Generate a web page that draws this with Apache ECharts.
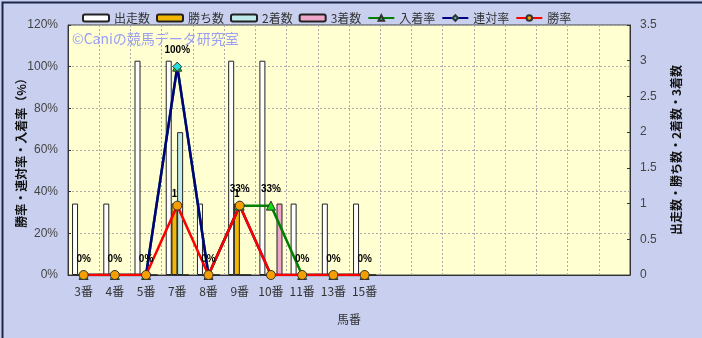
<!DOCTYPE html>
<html><head><meta charset="utf-8">
<script src="https://cdn.jsdelivr.net/npm/echarts@6/dist/echarts.min.js"></script>
<style>html,body{margin:0;padding:0;}#c{width:702px;height:338px;}</style>
</head><body><div id="c"></div>
<script>
const categories = ['3番','4番','5番','7番','8番','9番','10番','11番','13番','15番','','','','','','','',''];
const starts  = [1,1,3,3,1,3,3,1,1,1];
const wins    = [0,0,0,1,0,1,0,0,0,0];
const seconds = [0,0,0,2,0,0,0,0,0,0];
const thirds  = [0,0,0,0,0,0,1,0,0,0];
const placeRate = [0,0,0,100,0,33.3,33.3,0,0,0];
const rentaiRate = [0,0,0,100,0,33.3,0,0,0,0];
const winRate = [0,0,0,33.3,0,33.3,0,0,0,0];

const F = "'Noto Sans CJK JP', 'Liberation Sans', sans-serif";
const chart = echarts.init(document.getElementById('c'));
const bw = 6;
function bar(name, data, color, extra) {
  return Object.assign({
    name, type: 'bar', yAxisIndex: 1, data, barWidth: bw, barGap: '-5%',
    itemStyle: { color, borderColor: '#222', borderWidth: 1 }
  }, extra || {});
}
function line(name, data, color, symbol, symColor, size, extra) {
  return Object.assign({
    name, type: 'line', yAxisIndex: 0, data, symbol, symbolSize: size,
    lineStyle: { color, width: 2.5 },
    itemStyle: { color: symColor, borderColor: '#333', borderWidth: 1 }
  }, extra || {});
}
const option = {
  backgroundColor: '#c9d0ef',
  animation: false,
  textStyle: { fontFamily: F },
  legend: {
    left: 77, top: 7, itemWidth: 26, itemHeight: 7, itemGap: 6,
    textStyle: { fontSize: 12, color: '#333', fontFamily: F },
    data: ['出走数','勝ち数','2着数','3着数','入着率','連対率','勝率']
  },
  grid: { left: 68, right: 72, top: 25, bottom: 63, outerBoundsMode: 'none', containLabel: false,
    show: true, backgroundColor: '#ffffd2', borderColor: '#444', borderWidth: 1 },
  xAxis: {
    type: 'category', data: categories, boundaryGap: true,
    name: '馬番', nameLocation: 'middle', nameGap: 38,
    nameTextStyle: { fontSize: 12, color: '#333', fontFamily: F },
    axisLine: { lineStyle: { color: '#333' } },
    axisTick: { show: false },
    axisLabel: { interval: 0, fontSize: 12, color: '#333', margin: 10, fontFamily: F },
    splitLine: { show: true, interval: 0, lineStyle: { color: '#aaa', type: [2, 2] } }
  },
  yAxis: [
    { type: 'value', min: 0, max: 120, interval: 20,
      name: '勝率・連対率・入着率（%）', nameLocation: 'middle', nameRotate: 90, nameGap: 41, nameMoveOverlap: false,
      nameTextStyle: { fontSize: 12, fontWeight: 'bold', color: '#111', fontFamily: F },
      axisLine: { show: true, lineStyle: { color: '#333' } },
      axisTick: { show: true, inside: true, length: 3, lineStyle: { color: '#333' } },
      axisLabel: { formatter: '{value}%', fontSize: 12, color: '#444', margin: 10, fontFamily: "'Liberation Sans', sans-serif" },
      splitLine: { show: true, lineStyle: { color: '#aaa', type: [2, 2] } } },
    { type: 'value', min: 0, max: 3.5, interval: 0.5, position: 'right',
      name: '出走数・勝ち数・2着数・3着数', nameLocation: 'middle', nameRotate: 90, nameGap: 40, nameMoveOverlap: false,
      nameTextStyle: { fontSize: 12, fontWeight: 'bold', color: '#111', fontFamily: F },
      axisLine: { show: true, lineStyle: { color: '#333' } },
      axisTick: { show: true, inside: true, length: 3, lineStyle: { color: '#333' } },
      axisLabel: { fontSize: 12, color: '#444', margin: 10, fontFamily: "'Liberation Sans', sans-serif" },
      splitLine: { show: false } }
  ],
  graphic: [
    { type: 'text', left: 72, top: 32, z: 1, style: { text: '©Caniの競馬データ研究室', fill: '#9a9ef4', font: '14px ' + F } },
    { type: 'rect', left: 0, top: 0, shape: { width: 701, height: 337 }, style: { fill: 'none', stroke: '#1c2648', lineWidth: 2 } }
  ],
  series: [
    bar('出走数', starts, '#ffffff'),
    bar('勝ち数', wins, '#f2b705', {
      label: { show: true, position: 'top', distance: 5, fontSize: 10, fontWeight: 'bold', color: '#000',
        formatter: p => p.value > 0 ? String(p.value) : '' }
    }),
    bar('2着数', seconds, '#bfeaea'),
    bar('3着数', thirds, '#f0a6c8'),
    line('入着率', placeRate, '#008000', 'triangle', '#11dd11', 9, {
      label: { show: true, position: 'top', distance: 6, fontSize: 10, fontWeight: 'bold', color: '#000',
        fontFamily: "'Liberation Sans', sans-serif", formatter: p => Math.round(p.value) + '%' }
    }),
    line('連対率', rentaiRate, '#000080', 'diamond', '#22e0e0', 9),
    line('勝率', winRate, '#ff0000', 'circle', '#f5a000', 9)
  ]
};
chart.setOption(option);
</script>
</body></html>
